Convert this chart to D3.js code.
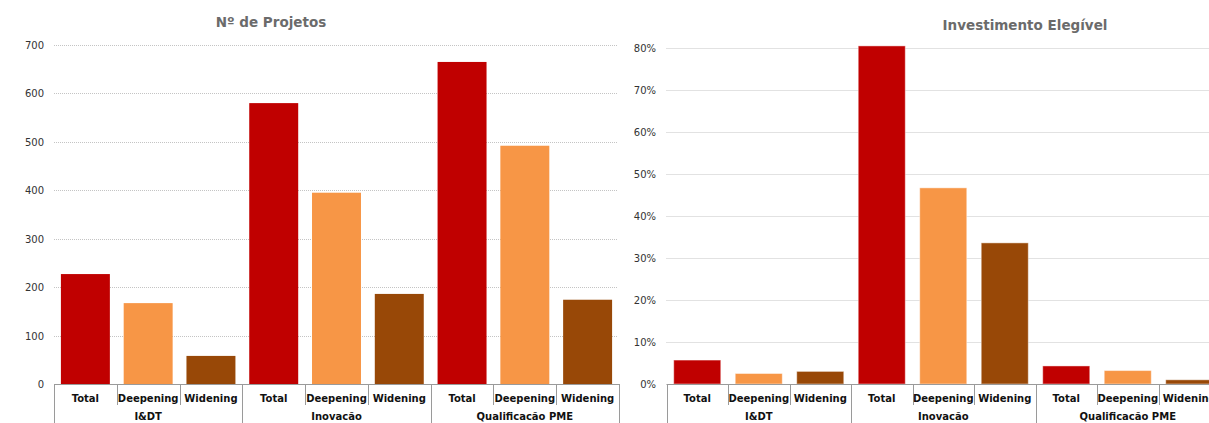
<!DOCTYPE html>
<html>
<head>
<meta charset="utf-8">
<script src="https://cdn.jsdelivr.net/npm/d3@7"></script>
<style>
  body { margin: 0; background: #fff; }
  svg { display: block; font-family: "DejaVu Sans", Verdana, sans-serif; }
</style>
</head>
<body>
<svg id="chart" width="1209" height="423"></svg>
<script>
// data
const groups = ['I&DT', 'Inovacão', 'Qualificacão PME'];
const subs = ['Total', 'Deepening', 'Widening'];
const projetos = [
  [227, 167, 58],
  [580, 395, 186],
  [665, 492, 174]
];
const investimento = [
  [0.057, 0.025, 0.030],
  [0.805, 0.467, 0.336],
  [0.043, 0.032, 0.010]
];
const projTicks = [0, 100, 200, 300, 400, 500, 600, 700];
const invTicks = [0, 0.1, 0.2, 0.3, 0.4, 0.5, 0.6, 0.7, 0.8];
const colors = { 'Total': '#C00000', 'Deepening': '#F79646', 'Widening': '#984807' };

const svg = d3.select('#chart');

const drawChart = (opt) => {
  const g = svg.append('g');

  const x0 = d3.scaleBand().domain(groups).range(opt.xRange);
  const x1 = d3.scaleBand().domain(subs)
    .range([0, x0.bandwidth()])
    .paddingInner(opt.pad).paddingOuter(opt.pad / 2);
  const y = d3.scaleLinear().domain(opt.domain).range([384, opt.yTop]);

  // title
  g.append('text')
    .attr('x', opt.titleX).attr('y', opt.titleY)
    .attr('text-anchor', 'middle')
    .attr('font-size', '13.5px').attr('font-weight', 'bold')
    .attr('fill', '#6b6b6b')
    .text(opt.title);

  // grid lines
  g.selectAll('.grid').data(opt.ticks.slice(1)).enter()
    .append('line')
    .attr('x1', opt.xRange[0]).attr('x2', opt.gridEnd)
    .attr('y1', d => Math.round(y(d)) + 0.5).attr('y2', d => Math.round(y(d)) + 0.5)
    .attr('stroke', '#c4c4c4').attr('stroke-width', 1)
    .attr('stroke-dasharray', '1,1');

  // y labels
  g.selectAll('.ylab').data(opt.ticks).enter()
    .append('text')
    .attr('x', opt.labelX).attr('y', d => y(d) + 4)
    .attr('text-anchor', 'end')
    .attr('font-size', '10px').attr('fill', '#333')
    .text(opt.fmt);

  // bars
  groups.forEach((grp, gi) => {
    g.selectAll(null).data(opt.values[gi]).enter()
      .append('rect')
      .attr('x', (d, i) => x0(grp) + x1(subs[i]))
      .attr('y', d => y(d))
      .attr('width', x1.bandwidth())
      .attr('height', d => y(0) - y(d))
      .attr('fill', (d, i) => colors[subs[i]])
      .attr('stroke', opt.barStroke)
      .attr('stroke-width', 1);
  });

  // axis baseline
  g.append('line')
    .attr('x1', opt.xRange[0]).attr('x2', opt.xRange[1])
    .attr('y1', 384.5).attr('y2', 384.5)
    .attr('stroke', '#9a9a9a');

  // ticks between categories and groups
  groups.forEach(grp => {
    const step = x0.bandwidth() / subs.length;
    subs.forEach((s, i) => {
      const xx = Math.round(x0(grp) + i * step) + 0.5;
      g.append('line')
        .attr('x1', xx).attr('x2', xx)
        .attr('y1', 384).attr('y2', i === 0 ? 423 : 405)
        .attr('stroke', '#9a9a9a');
      g.append('text')
        .attr('x', x0(grp) + (i + 0.5) * step).attr('y', 402)
        .attr('text-anchor', 'middle')
        .attr('font-size', '10px').attr('font-weight', 'bold').attr('fill', '#111')
        .text(s);
    });
    g.append('text')
      .attr('x', x0(grp) + x0.bandwidth() / 2).attr('y', 420)
      .attr('text-anchor', 'middle')
      .attr('font-size', '10px').attr('font-weight', 'bold').attr('fill', '#111')
      .text(grp);
  });
  const xe = Math.round(opt.xRange[1]) + 0.5;
  g.append('line')
    .attr('x1', xe).attr('x2', xe).attr('y1', 384).attr('y2', 423)
    .attr('stroke', '#9a9a9a');
};

drawChart({
  title: 'Nº de Projetos', titleX: 271, titleY: 27,
  xRange: [54, 619], gridEnd: 617, pad: 0.22,
  domain: [0, 700], yTop: 45, ticks: projTicks,
  labelX: 44, fmt: d => d, values: projetos, barStroke: 'none'
});

drawChart({
  title: 'Investimento Elegível', titleX: 1025, titleY: 30,
  xRange: [666.5, 1220], gridEnd: 1209, pad: 0.235,
  domain: [0, 0.8], yTop: 48, ticks: invTicks,
  labelX: 656, fmt: d3.format('.0%'), values: investimento,
  barStroke: 'rgba(255,255,255,0.45)'
});
</script>
</body>
</html>
